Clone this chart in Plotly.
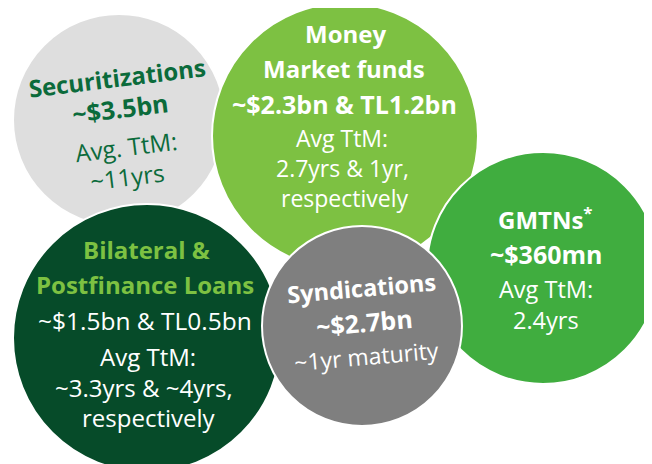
import plotly.graph_objects as go

# Bubble data (pixel-space coordinates on a 652x464 canvas)
names = ["Securitizations", "Money Market funds", "Bilateral & Postfinance Loans", "GMTNs", "Syndications"]
center_x = [119, 345, 147, 543, 362]
center_y = [120, 136, 338, 268, 326]
radius = [106, 133, 134, 116, 100]
fill = ["#DEDEDE", "#7DC142", "#064B29", "#40AD3F", "#7F7F7F"]

# Text lines: (text, x, y, size, bold, color, angle)
DG = "#0B6B3B"
LG = "#7DC142"
W = "white"
lines = [
    ("Securitizations", 117, 77, 24, True, DG, -7),
    ("~$3.5bn", 120, 108, 25, True, DG, -7),
    ("Avg. TtM:", 126, 146, 24, False, DG, -7),
    ("~11yrs", 127, 176, 24, False, DG, -7),

    ("Money", 345, 33, 24, True, W, 0),
    ("Market funds", 344, 68, 24, True, W, 0),
    ("~$2.3bn & TL1.2bn", 344, 104, 25, True, W, 0),
    ("Avg TtM:", 342, 138, 23, False, W, 0),
    ("2.7yrs & 1yr,", 342, 168, 23, False, W, 0),
    ("respectively", 344, 198, 23, False, W, 0),

    ("GMTNs<sup>*</sup>", 545, 218, 24, True, W, 0),
    ("~$360mn", 546, 254, 25, True, W, 0),
    ("Avg TtM:", 546, 289, 23.5, False, W, 0),
    ("2.4yrs", 546, 320, 23.5, False, W, 0),

    ("Bilateral &", 146, 249, 24, True, LG, 0),
    ("Postfinance Loans", 145, 284, 24, True, LG, 0),
    ("~$1.5bn & TL0.5bn", 145, 320, 24.5, False, W, 0),
    ("Avg TtM:", 148, 356, 24, False, W, 0),
    ("~3.3yrs & ~4yrs,", 144, 387, 24, False, W, 0),
    ("respectively", 149, 417, 24, False, W, 0),

    ("Syndications", 361, 288, 23.5, True, W, -5),
    ("~$2.7bn", 364, 322, 25, True, W, -5),
    ("~1yr maturity", 366, 356, 23, False, W, -5),
]

fig = go.Figure(
    go.Scatter(
        x=center_x,
        y=center_y,
        mode="markers",
        text=names,
        hoverinfo="skip",
        marker=dict(
            size=[2 * r for r in radius],
            sizemode="diameter",
            color=fill,
            opacity=1,
            line=dict(color="white", width=2),
        ),
    )
)

for txt, x, y, size, bold, color, ang in lines:
    fig.add_annotation(
        x=x, y=y, xref="x", yref="y",
        text=f"<b>{txt}</b>" if bold else txt,
        showarrow=False,
        textangle=ang,
        xanchor="center", yanchor="middle",
        font=dict(family="Open Sans", size=size, color=color),
    )

# page body has an 8px margin; offset the axis ranges so data units equal screen pixels
fig.update_layout(
    width=652, height=464, autosize=False,
    margin=dict(l=0, r=0, t=0, b=0),
    paper_bgcolor="white", plot_bgcolor="white",
    showlegend=False,
    xaxis=dict(range=[8, 660], visible=False, fixedrange=True),
    yaxis=dict(range=[472, 8], visible=False, fixedrange=True),
)

fig.write_html("out.html")
